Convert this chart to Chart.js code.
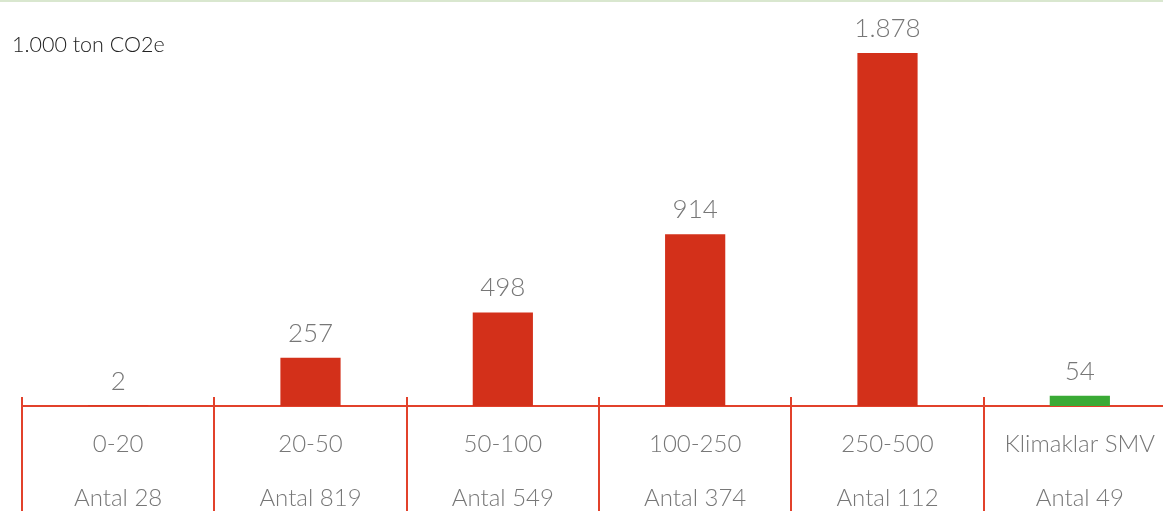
<!DOCTYPE html>
<html>
<head>
<meta charset="utf-8">
<script src="https://cdn.jsdelivr.net/npm/chart.js@4.4.0/dist/chart.umd.min.js"></script>
<style>
  html, body { margin: 0; padding: 0; background: #fff; overflow: hidden; }
  #wrap { position: relative; width: 1178px; height: 511px; }
</style>
</head>
<body>
<div id="wrap"><canvas id="chart"></canvas></div>
<script>
// data
var categories = ['0-20', '20-50', '50-100', '100-250', '250-500', 'Klimaklar SMV'];
var antal = [28, 819, 549, 374, 112, 49];
var values = [2, 257, 498, 914, 1878, 54];
var valueLabels = ['2', '257', '498', '914', '1.878', '54'];
var unitLabel = '1.000 ton CO2e';

var RED = '#d3301a';
var GREEN = '#3aaa35';
var AXIS = '#e2412b';
var FONT = 'Lato, "Open Sans", sans-serif';

var barColors = categories.map(function (c, i) {
    return i == categories.length - 1 ? GREEN : RED;
});

var labels = categories.map(function (c, i) {
    return [c, 'Antal ' + antal[i]];
});

var extras = {
    id: 'extras',
    afterDraw: function (chart) {
        var ctx = chart.ctx;
        var area = chart.chartArea;
        var x = chart.scales.x;
        ctx.save();

        // thin line along the top
        ctx.fillStyle = '#d9e7cf';
        ctx.fillRect(0, 0, chart.width, 2);

        // unit text
        ctx.fillStyle = '#222';
        ctx.font = '300 21.5px ' + FONT;
        ctx.textAlign = 'left';
        ctx.textBaseline = 'middle';
        ctx.fillText(unitLabel, 12, 45);

        // category separators
        var step = x.width / categories.length;
        ctx.strokeStyle = AXIS;
        ctx.lineWidth = 2;
        for (var i = 0; i <= categories.length; i++) {
            var px = Math.round(x.left + i * step);
            ctx.beginPath();
            ctx.moveTo(px, area.bottom - 9);
            ctx.lineTo(px, chart.height);
            ctx.stroke();
        }

        // value labels
        ctx.fillStyle = '#777';
        ctx.font = '300 26px ' + FONT;
        ctx.textAlign = 'center';
        ctx.textBaseline = 'alphabetic';
        chart.getDatasetMeta(0).data.forEach(function (bar, i) {
            ctx.fillText(valueLabels[i], bar.x, bar.y - 16);
        });
        ctx.restore();
    }
};

new Chart(document.getElementById('chart'), {
    type: 'bar',
    data: {
        labels: labels,
        datasets: [{
            data: values,
            backgroundColor: barColors,
            borderWidth: 0,
            barPercentage: 0.313,
            categoryPercentage: 1
        }]
    },
    options: {
        responsive: true,
        maintainAspectRatio: false,
        animation: false,
        layout: { padding: { left: 22, right: 2, top: 30, bottom: 0 } },
        plugins: {
            legend: { display: false },
            tooltip: { enabled: false }
        },
        scales: {
            y: {
                display: false,
                min: 0,
                max: 2000
            },
            x: {
                grid: { display: false, drawTicks: false },
                border: { display: true, color: AXIS, width: 2 },
                ticks: {
                    color: '#777',
                    padding: 12,
                    maxRotation: 0,
                    autoSkip: false,
                    font: { family: FONT, size: 24, weight: '300', lineHeight: 2.22 }
                },
                afterFit: function (scale) { scale.height = 105; }
            }
        }
    },
    plugins: [extras]
});
</script>
</body>
</html>
